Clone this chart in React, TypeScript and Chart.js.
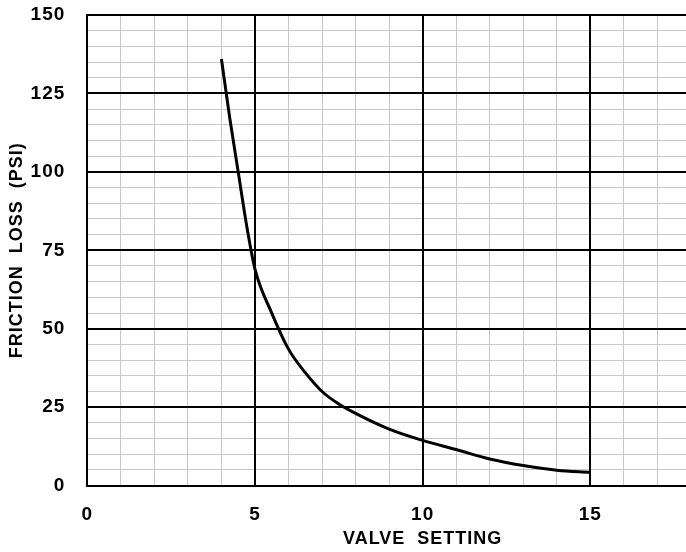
import React, { useEffect, useRef } from "react";
import { Chart, registerables } from "chart.js";

Chart.register(...registerables);

const valveSetting = [4, 4.25, 4.5, 4.75, 5, 5.5, 6, 6.5, 7, 7.5, 8, 9, 10, 11, 12, 13, 14, 15];
const frictionLoss = [136, 117, 100, 83, 69, 55, 43.5, 36, 30, 26, 23, 18, 14.4, 11.5, 8.5, 6.4, 4.9, 4.2];

const xMin = 0;
const xMax = 20;
const xMinorStep = 1;
const xMajorStep = 5;
const yMin = 0;
const yMax = 150;
const yMinorStep = 5;
const yMajorStep = 25;

const xTitle = "VALVE  SETTING";
const yTitle = "FRICTION  LOSS  (PSI)";

const FONT = "'Liberation Sans', Arial, Helvetica, sans-serif";
const MINOR = "#c8c8c8";
const MAJOR = "#000";
const X_TICK_PAD = 18;
const Y_TICK_PAD = 22;

const spacingPlugin = {
  id: "letterSpacing",
  beforeDraw(chart: any) {
    try {
      chart.ctx.letterSpacing = "1px";
    } catch (e) {}
  },
};

export default function App() {
  const ref = useRef<HTMLCanvasElement | null>(null);

  useEffect(() => {
    const canvas = ref.current;
    if (!canvas) return;
    const chart = new Chart(canvas, {
      type: "line",
      data: {
        datasets: [
          {
            data: valveSetting.map((x, i) => ({ x, y: frictionLoss[i] })),
            borderColor: "#000",
            borderWidth: 3,
            pointRadius: 0,
            cubicInterpolationMode: "monotone",
            fill: false,
          },
        ],
      },
      plugins: [spacingPlugin],
      options: {
        animation: false,
        responsive: false,
        devicePixelRatio: 1,
        layout: { padding: { left: 6, top: 0, right: 22, bottom: 2 } },
        plugins: { legend: { display: false }, tooltip: { enabled: false } },
        scales: {
          x: {
            type: "linear",
            position: "bottom",
            min: xMin,
            max: xMax,
            afterFit: (s: any) => {
              s.paddingLeft = 0;
              s.paddingRight = 0;
              s.height = s.height - X_TICK_PAD;
            },
            ticks: {
              stepSize: xMinorStep,
              autoSkip: false,
              maxTicksLimit: 100,
              maxRotation: 0,
              padding: X_TICK_PAD,
              color: "#000",
              font: { family: FONT, size: 19, weight: "bold" },
              callback: (v: any) => (Number(v) % xMajorStep === 0 ? String(v) : ""),
            },
            grid: { drawTicks: false, color: MINOR, lineWidth: 1, z: -1 },
            border: { display: true, color: "#000", width: 2 },
            title: {
              display: true,
              text: xTitle,
              color: "#000",
              font: { family: FONT, size: 18, weight: "bold" },
              padding: { top: 2, bottom: 0 },
            },
          },
          y: {
            type: "linear",
            position: "left",
            min: yMin,
            max: yMax,
            afterFit: (s: any) => {
              s.paddingTop = 15;
              s.paddingBottom = 0;
              s.width = s.width - Y_TICK_PAD;
            },
            ticks: {
              stepSize: yMinorStep,
              autoSkip: false,
              maxTicksLimit: 100,
              padding: Y_TICK_PAD,
              color: "#000",
              font: { family: FONT, size: 19, weight: "bold" },
              callback: (v: any) => (Number(v) % yMajorStep === 0 ? String(v) : ""),
            },
            grid: { drawTicks: false, color: MINOR, lineWidth: 1, z: -1 },
            border: { display: true, color: "#000", width: 2 },
            title: {
              display: true,
              text: yTitle,
              color: "#000",
              font: { family: FONT, size: 18, weight: "bold" },
              padding: { top: 0, bottom: 6 },
            },
          },
          xMajor: {
            type: "linear",
            position: "bottom",
            min: xMin,
            max: xMax,
            afterFit: (s: any) => {
              s.paddingLeft = 0;
              s.paddingRight = 0;
              s.height = 0;
            },
            ticks: { display: false, stepSize: xMajorStep, autoSkip: false },
            grid: { drawTicks: false, color: MAJOR, lineWidth: 2 },
            border: { display: false },
          },
          yMajor: {
            type: "linear",
            position: "left",
            min: yMin,
            max: yMax,
            afterFit: (s: any) => {
              s.paddingTop = 15;
              s.paddingBottom = 0;
              s.width = 0;
            },
            ticks: { display: false, stepSize: yMajorStep, autoSkip: false },
            grid: { drawTicks: false, color: MAJOR, lineWidth: 2 },
            border: { display: false },
          },
        },
      },
    });
    return () => chart.destroy();
  }, []);

  return (
    <div
      style={{
        position: "absolute",
        left: 0,
        top: 0,
        width: 686,
        height: 552,
        overflow: "hidden",
        background: "#fff",
      }}
    >
      <canvas ref={ref} width={780} height={552} style={{ display: "block" }} />
    </div>
  );
}
